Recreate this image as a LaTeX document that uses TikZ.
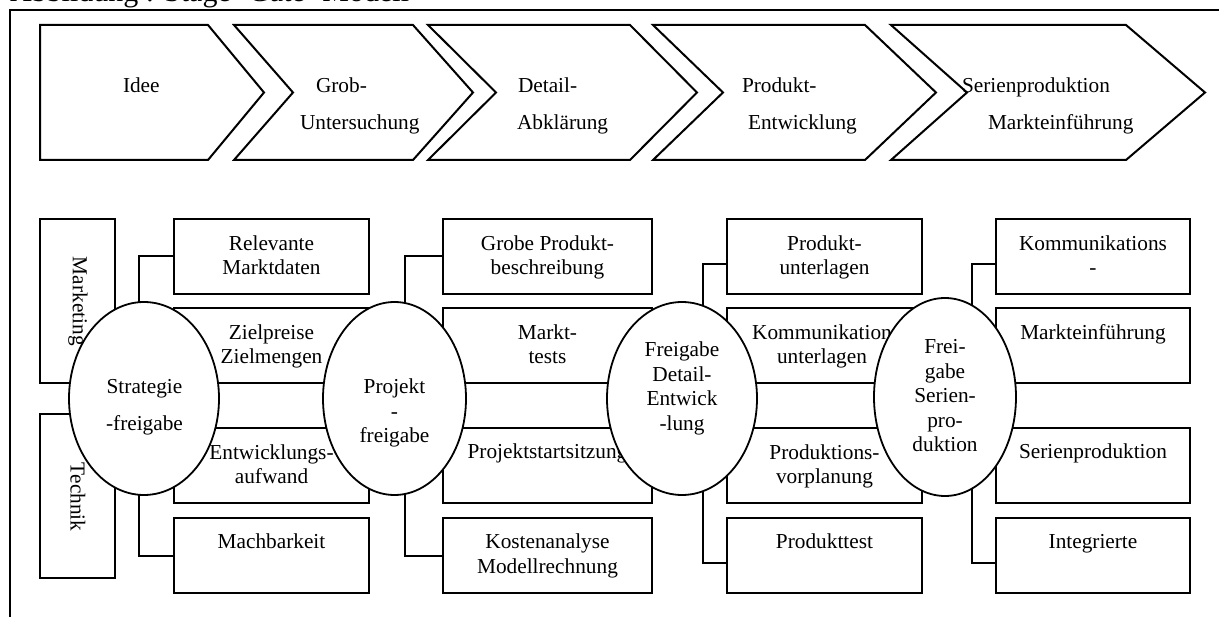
\documentclass[tikz,border=0pt]{standalone}
\usepackage{fontspec}
\setmainfont{Liberation Serif}
\usetikzlibrary{shapes.geometric}

\begin{document}
\begin{tikzpicture}[x=1pt,y=-1pt,
  every node/.style={inner sep=0pt, outer sep=0pt},
  ln/.style={line width=2pt},
  stage/.style={ln, line join=miter},
  body/.style={font=\fontsize{21.3}{24.5}\selectfont},
  % multi-line labels are placed by the baseline of their last line
  lbl/.style={body, align=center, anchor=base},
  stagetxt/.style={body, anchor=base west},
  task/.style={draw, ln, minimum width=#1, minimum height=75pt},
  dept/.style={draw, ln, minimum width=75pt, minimum height=164pt},
  gate/.style={ellipse, draw, fill=white, line width=1.8pt},
  link/.style={ln}
]
\useasboundingbox (0,0) rectangle (1219,617);

% caption and frame
\node[anchor=base west, font=\fontsize{30}{36}\selectfont] (caption) at (10,2) {Abbildung : Stage- Gate- Modell};
\draw[line width=1.8pt] (10,617) -- (10,10) -- (1219,10);

% process stages
\draw[stage] (40,25) -- (208,25) -- (264,92.5) -- (208,160) -- (40,160) -- cycle;
\draw[stage] (234,25) -- (413,25) -- (473,92.5) -- (413,160) -- (234,160) -- (293,92.5) -- cycle;
\draw[stage] (428,25) -- (630,25) -- (697,92.5) -- (630,160) -- (428,160) -- (496,92.5) -- cycle;
\draw[stage] (653,25) -- (865,25) -- (936,92.5) -- (865,160) -- (653,160) -- (723,92.5) -- cycle;
\draw[stage] (891,25) -- (1126,25) -- (1205,92.5) -- (1126,160) -- (891,160) -- (967,92.5) -- cycle;

\node[stagetxt] (s1) at (123,93) {Idee};
\node[stagetxt] (s2a) at (316,93) {Grob-};
\node[stagetxt] (s2b) at (300,130) {Untersuchung};
\node[stagetxt] (s3a) at (518,93) {Detail-};
\node[stagetxt] (s3b) at (517,130) {Abklärung};
\node[stagetxt] (s4a) at (742,93) {Produkt-};
\node[stagetxt] (s4b) at (748,130) {Entwicklung};
\node[stagetxt] (s5a) at (962,93) {Serienproduktion};
\node[stagetxt] (s5b) at (988,130) {Markteinführung};

% departments
\node[dept] (mk) at (77.5,301) {};
\node[dept] (te) at (77.5,496) {};
\node[body, rotate=-90, anchor=west] (mkt) at (78,257) {Marketing};
\node[body, rotate=-90, anchor=west] (tet) at (78,463) {Technik};

% task boxes, column 1
\node[task=195pt] (a1) at (271.5,256.5) {};
\node[task=195pt] (a2) at (271.5,346) {};
\node[task=195pt] (a3) at (271.5,465.5) {};
\node[task=195pt] (a4) at (271.5,555.5) {};
\node[lbl] (ta1) at (271.5,275) {Relevante\\Marktdaten};
\node[lbl] (ta2) at (271.5,364) {Zielpreise\\Zielmengen};
\node[lbl] (ta3) at (271.5,483.5) {Entwicklungs-\\aufwand};
\node[lbl] (ta4) at (271.5,548.5) {Machbarkeit};

% task boxes, column 2
\node[task=209pt] (b1) at (547.5,256.5) {};
\node[task=209pt] (b2) at (547.5,346) {};
\node[task=209pt] (b3) at (547.5,465.5) {};
\node[task=209pt] (b4) at (547.5,555.5) {};
\node[lbl] (tb1) at (547.5,275) {Grobe Produkt-\\beschreibung};
\node[lbl] (tb2) at (547.5,364) {Markt-\\tests};
\node[lbl] (tb3) at (547.5,459) {Projektstartsitzung};
\node[lbl] (tb4) at (547.5,573) {Kostenanalyse\\Modellrechnung};

% task boxes, column 3
\node[task=195pt] (c1) at (824.5,256.5) {};
\node[task=195pt] (c2) at (824.5,346) {};
\node[task=195pt] (c3) at (824.5,465.5) {};
\node[task=195pt] (c4) at (824.5,555.5) {};
\node[lbl] (tc1) at (824.5,275) {Produkt-\\unterlagen};
\node[lbl] (tc2) at (822,364) {Kommunikation\\unterlagen};
\node[lbl] (tc3) at (824.5,483.5) {Produktions-\\vorplanung};
\node[lbl] (tc4) at (824.5,548.5) {Produkttest};

% task boxes, column 4
\node[task=194pt] (d1) at (1093,256.5) {};
\node[task=194pt] (d2) at (1093,346) {};
\node[task=194pt] (d3) at (1093,465.5) {};
\node[task=194pt] (d4) at (1093,555.5) {};
\node[lbl] (td1) at (1093,275) {Kommunikations\\-};
\node[lbl] (td2) at (1093,339.5) {Markteinführung};
\node[lbl] (td3) at (1093,459) {Serienproduktion};
\node[lbl] (td4) at (1093,548.5) {Integrierte};

% gates
\coordinate (g1c) at (144,398.5);
\coordinate (g2c) at (394.5,398.5);
\coordinate (g3c) at (682,398.5);
\coordinate (g4c) at (945,397);

% elbow links from gates to their first and last tasks
\draw[link] (a1.west) -| ([xshift=-5pt]g1c);
\draw[link] (a4.west) -| ([xshift=-5pt]g1c);
\draw[link] (b1.west) -| ([xshift=10.5pt]g2c);
\draw[link] (b4.west) -| ([xshift=10.5pt]g2c);
\draw[link] ([yshift=-7.5pt]c1.west) -| ([xshift=21pt]g3c);
\draw[link] ([yshift=-7.5pt]c4.west) -| ([xshift=21pt]g3c);
\draw[link] ([yshift=-7.5pt]d1.west) -| ([xshift=27pt]g4c);
\draw[link] ([yshift=-7.5pt]d4.west) -| ([xshift=27pt]g4c);

\node[gate, minimum width=150pt, minimum height=193pt] (g1) at (g1c) {};
\node[gate, minimum width=143pt, minimum height=193pt] (g2) at (g2c) {};
\node[gate, minimum width=150pt, minimum height=193pt] (g3) at (g3c) {};
\node[gate, minimum width=142pt, minimum height=198pt] (g4) at (g4c) {};

\node[lbl, font=\fontsize{21.3}{37}\selectfont] (tg1) at (144.5,431) {Strategie\\-freigabe};
\node[lbl] (tg2) at (394.5,443) {Projekt\\-\\freigabe};
\node[lbl] (tg3) at (682,430.5) {Freigabe\\Detail-\\Entwick\\-lung};
\node[lbl] (tg4) at (945,452) {Frei-\\gabe\\Serien-\\pro-\\duktion};
\end{tikzpicture}
\end{document}
